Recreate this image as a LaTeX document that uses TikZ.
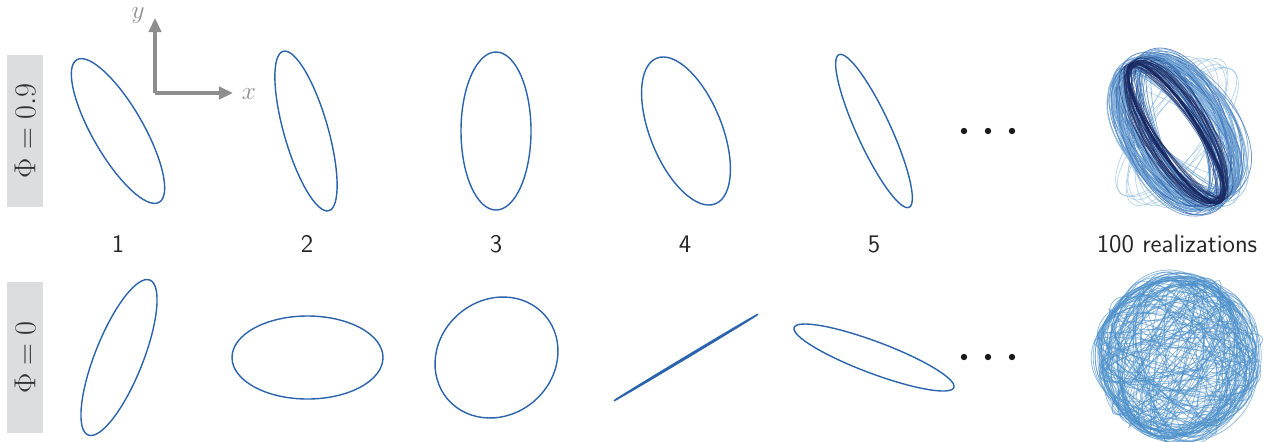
\documentclass[tikz,border=0pt]{standalone}
\usepackage{amsmath,amssymb}
\usepackage{tikz}
\usetikzlibrary{arrows.meta}

\definecolor{orbitblue}{HTML}{2B63AD}
\definecolor{navyorbit}{HTML}{1C2A63}
\definecolor{paleorbit}{HTML}{8DBBE2}
\definecolor{noiseblue}{HTML}{4B8FC9}
\definecolor{tabgray}{HTML}{DCDDDF}
\definecolor{axisgray}{HTML}{8E8E8E}

\begin{document}
\begin{tikzpicture}[x=0.02cm, y=0.02cm,
    every node/.style={font=\sffamily\Large, text=black!85},
    orbit/.style={draw=orbitblue, line width=0.8pt},
    phitab/.style={fill=tabgray, rotate=90, inner sep=0pt, minimum width=3.04cm,
      minimum height=0.72cm, font=\LARGE, text=black!80},
    axisline/.style={draw=axisgray, line width=2pt, -{Triangle[length=8pt, width=7pt]}},
    dotsep/.style={fill=black!90}]
  \useasboundingbox (0,0) rectangle (1270,441);

  % row labels
  \node[phitab] (phihigh) at (25,310) {$\Phi = 0.9$};
  \node[phitab] (phinull) at (25,83.5) {$\Phi = 0$};

  % axes
  \coordinate (orig) at (155,348);
  \coordinate (ytip) at (155,423);
  \coordinate (xtip) at (233,348);
  \draw[axisline] (orig) -- (ytip);
  \draw[axisline] (orig) -- (xtip);
  \node[font=\Large, text=axisgray] (ylab) at (138,425) {$y$};
  \node[font=\Large, text=axisgray] (xlab) at (249,347) {$x$};

  % single realizations, Phi = 0.9
  \foreach \cx/\ang/\ra/\rb in {118/-60/82.3/25.4, 306/-74/82.9/22, 496/90/79/35,
      686/-68/78.5/35.9, 874/-65.3/84/17}
    \draw[orbit, shift={(\cx,310)}, rotate=\ang] (0,0) ellipse [x radius=\ra, y radius=\rb];

  % single realizations, Phi = 0
  \foreach \cx/\ang/\ra/\rb in {119/68.3/83.4/24, 307.5/0/75.5/41.5, 496.5/40.6/64.2/57.6,
      686/31/84/0.8, 874/-20.6/85.3/15.9}
    \draw[orbit, shift={(\cx,83.5)}, rotate=\ang] (0,0) ellipse [x radius=\ra, y radius=\rb];

  % realization numbers
  \foreach \cx [count=\i] in {118,307,496,685,874}
    \node (lab\i) at (\cx,197) {\i};
  \node (labreal) at (1177,197) {100 realizations};

  % dots
  \foreach \cx in {964,988,1012}{
    \fill[dotsep] (\cx,310) circle (3.2);
    \fill[dotsep] (\cx,84) circle (3.2);
  }

  % 100 realizations, Phi = 0.9
  \pgfmathsetseed{11}
  \foreach \k in {1,...,10}{
    \pgfmathsetmacro\ang{-180*rnd}
    \pgfmathsetmacro\ra{80+5*rand}
    \pgfmathsetmacro\rb{30+12*rand}
    \draw[draw=paleorbit, line width=0.35pt, opacity=0.7, shift={(1177,309)}, rotate=\ang]
      (0,0) ellipse [x radius=\ra, y radius=\rb];
  }
  \foreach \k in {1,...,90}{
    \pgfmathsetmacro\ang{-60+16*rand}
    \pgfmathsetmacro\ra{80+5*rand}
    \pgfmathsetmacro\rb{38+18*rand}
    \pgfmathtruncatemacro\shade{50+50*rand}
    \pgfmathsetmacro\dx{5*rand}
    \pgfmathsetmacro\dy{5*rand}
    \draw[draw=orbitblue!\shade!paleorbit, line width=0.45pt, opacity=0.8,
      shift={(1177+\dx,309+\dy)}, rotate=\ang] (0,0) ellipse [x radius=\ra, y radius=\rb];
  }
  \foreach \k in {1,...,25}{
    \pgfmathsetmacro\ang{-58+6*rand}
    \pgfmathsetmacro\ra{81+3*rand}
    \pgfmathsetmacro\rb{26+10*rand}
    \draw[draw=navyorbit, line width=0.4pt, opacity=0.6,
      shift={(1176,309)}, rotate=\ang] (0,0) ellipse [x radius=\ra, y radius=\rb];
  }
  \draw[draw=navyorbit, line width=1.6pt, shift={(1176,308)}, rotate=-57]
    (0,0) ellipse [x radius=82, y radius=22];

  % 100 realizations, Phi = 0
  \foreach \k in {1,...,100}{
    \pgfmathsetmacro\ang{180*rnd}
    \pgfmathsetmacro\ra{80+4*rand}
    \pgfmathsetmacro\rb{42+40*rand}
    \pgfmathsetmacro\dx{5*rand}
    \pgfmathsetmacro\dy{5*rand}
    \draw[draw=noiseblue, line width=0.45pt, opacity=0.6,
      shift={(1177+\dx,84+\dy)}, rotate=\ang] (0,0) ellipse [x radius=\ra, y radius=\rb];
  }
\end{tikzpicture}
\end{document}
